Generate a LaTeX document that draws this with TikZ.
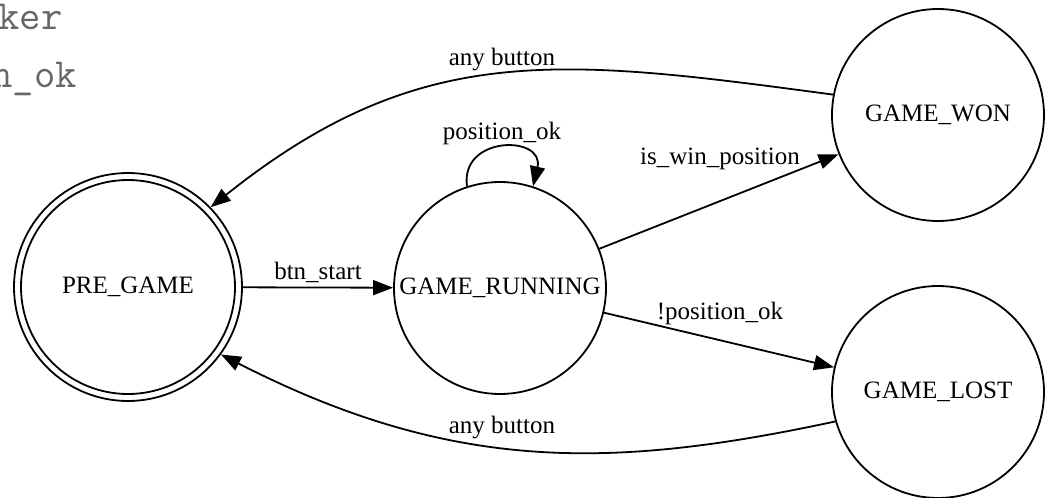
\documentclass[tikz,border=0pt]{standalone}
\usepackage{fontspec}
\setmainfont{Liberation Serif}
\usetikzlibrary{arrows.meta}
\definecolor{codegray}{HTML}{666666}
\begin{document}
\begin{tikzpicture}[x=0.5pt,y=-0.5pt,
  state/.style={circle,draw,line width=0.9pt,minimum size=106pt,inner sep=0pt,font=\fontsize{12.5pt}{15pt}\selectfont},
  lbl/.style={font=\fontsize{12.5pt}{15pt}\selectfont,inner sep=0pt},
  code/.style={font=\ttfamily\fontsize{20.7pt}{22pt}\selectfont,text=codegray,inner sep=0pt,anchor=base west},
  edge/.style={line width=0.9pt,-{Triangle[length=10pt,width=7.5pt]}}]
\useasboundingbox (0,0) rectangle (1046,498);
\clip (0,0) rectangle (1046,498);
% clipped code text at top left
\node[code] (c1) at (-2,30) {ker};
\node[code] (c2) at (-9,87) {n\_ok};
% states
\node[state,minimum size=114pt] (pre) at (128,287) {PRE\_GAME};
\draw[line width=0.9pt] (pre.center) circle (53.5pt);
\node[state] (run) at (500,288) {GAME\_RUNNING};
\node[state] (won) at (938,115) {GAME\_WON};
\node[state] (lost) at (938,392) {GAME\_LOST};
% edges
\draw[edge] (pre) -- (run);
\node[lbl] (l1) at (318,272) {btn\_start};
\draw[edge] (run.108) .. controls (460,135) and (545,135) .. (run.72);
\node[lbl] (l2) at (502,133) {position\_ok};
\draw[edge] (run) -- (won);
\node[lbl] (l3) at (720,159) {is\_win\_position};
\draw[edge] (run) -- (lost);
\node[lbl] (l4) at (720,313) {!position\_ok};
\draw[edge] (won.169) .. controls (560,58) and (420,40) .. (pre.44);
\node[lbl] (l5) at (502,60) {any button};
\draw[edge] (lost.196) .. controls (609,470) and (451,472) .. (pre.324);
\node[lbl] (l6) at (502,428) {any button};
\end{tikzpicture}
\end{document}
